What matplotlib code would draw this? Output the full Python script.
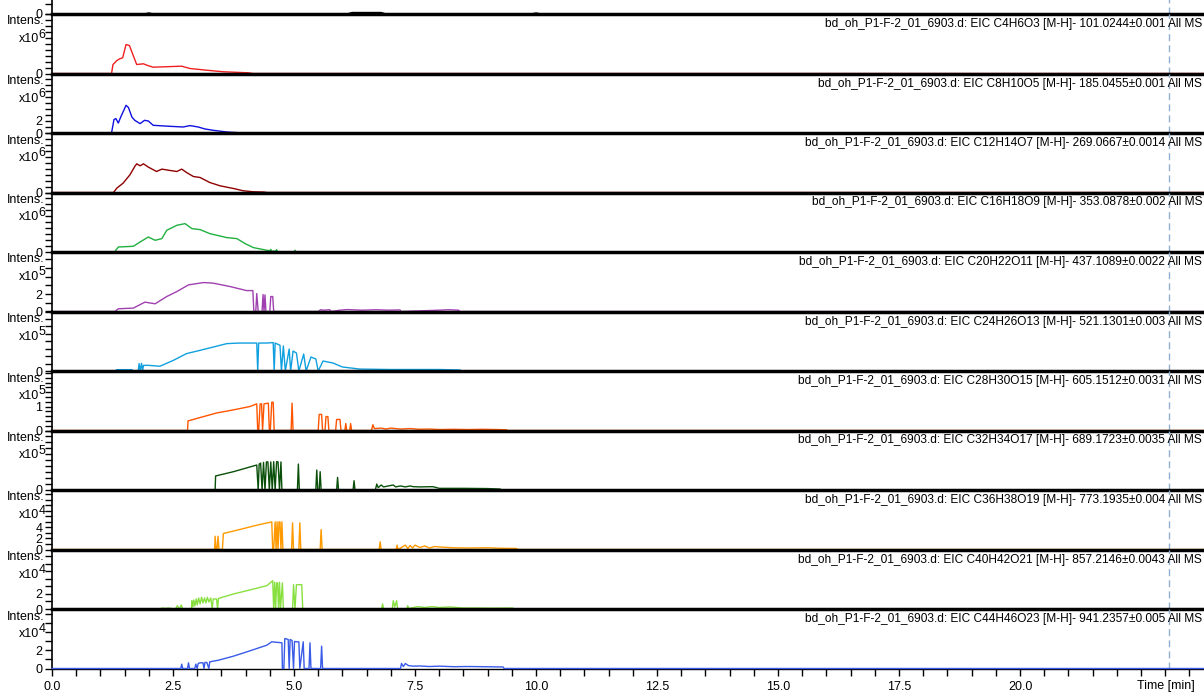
import matplotlib
matplotlib.use("Agg")
import matplotlib.pyplot as plt
from matplotlib.ticker import FixedLocator, MultipleLocator, NullFormatter, FormatStrFormatter

plt.rcParams['font.family'] = ['Liberation Sans', 'DejaVu Sans']

# ---- data (intensity in units of 10^exponent, time in min) ----
sample = "bd_oh_P1-F-2_01_6903.d"
formulas = ["C4H6O3", "C8H10O5", "C12H14O7", "C16H18O9", "C20H22O11", "C24H26O13",
            "C28H30O15", "C32H34O17", "C36H38O19", "C40H42O21", "C44H46O23"]
masses = ["101.0244", "185.0455", "269.0667", "353.0878", "437.1089", "521.1301",
          "605.1512", "689.1723", "773.1935", "857.2146", "941.2357"]
tolerances = ["0.001", "0.001", "0.0014", "0.002", "0.0022", "0.003",
              "0.0031", "0.0035", "0.004", "0.0043", "0.005"]
exponents = [None, 6, 6, 6, 6, 5, 5, 5, 5, 4, 4, 4]
y_max = [60, 10, 9.9, 10, 10, 6.8, 4, 2.48, 2.5, 10.8, 7.9, 6.6]
y_labels = [[0], [0], [0, 2], [0], [0], [0, 2], [0], [0, 1], [0], [0, 2, 4], [0, 2], [0, 2]]
y_minor = [10, 1, 1, 1, 1, 1, 0.5, 0.2, 0.25, 1, 1, 1]
x_ticks = [0.0, 2.5, 5.0, 7.5, 10.0, 12.5, 15.0, 17.5, 20.0]
t_end = 23.8
marker_time = 23.08

t0 = [0, 1.9, 2.0, 2.1, 6.1, 6.2, 6.5, 6.8, 6.9, 9.9, 10.0, 10.1, 23.8]
v0 = [0, 0, 1.0, 0, 0, 1.5, 1.5, 1.5, 0, 0, 1.0, 0, 0]

t1 = [0, 1.23, 1.26, 1.34, 1.40, 1.46, 1.53, 1.60, 1.67, 1.75, 1.89, 1.96, 2.09, 2.68, 2.85,
      3.26, 3.54, 4.05, 4.16, 23.8]
v1 = [0, 0, 1.51, 2.18, 2.47, 2.64, 4.87, 4.70, 3.19, 1.51, 1.63, 1.39, 1.06, 1.23, 0.84,
      0.50, 0.29, 0.12, 0, 0]

t2 = [0, 1.23, 1.28, 1.32, 1.37, 1.42, 1.53, 1.58, 1.65, 1.71, 1.82, 1.91, 1.99, 2.09, 2.44,
      2.71, 2.85, 3.02, 3.16, 3.33, 3.61, 3.95, 23.8]
v2 = [0, 0, 2.23, 2.40, 1.66, 2.66, 4.61, 4.23, 2.66, 2.11, 1.56, 2.11, 2.00, 1.28, 1.11,
      1.00, 1.23, 1.00, 0.67, 0.45, 0.17, 0, 0]

t3 = [0, 1.27, 1.34, 1.47, 1.61, 1.71, 1.75, 1.82, 1.89, 1.99, 2.16, 2.27, 2.44, 2.58, 2.68,
      2.78, 2.92, 3.06, 3.26, 3.47, 3.75, 3.95, 4.16, 4.37, 4.45, 23.8]
v3 = [0, 0, 0.74, 1.58, 2.97, 4.37, 4.82, 4.49, 4.82, 4.27, 3.53, 3.93, 3.70, 3.53, 3.93,
      3.36, 2.69, 2.52, 1.68, 1.13, 0.67, 0.29, 0.12, 0.08, 0, 0]

t4 = [0, 1.29, 1.37, 1.68, 1.82, 1.99, 2.13, 2.27, 2.37, 2.58, 2.75, 2.89, 3.06, 3.26, 3.61,
      3.82, 3.99, 4.16, 4.37, 4.50, 4.52, 4.54, 4.57, 4.62, 4.64, 4.66, 4.71, 5.00, 5.02, 5.04,
      23.8]
v4 = [0, 0, 0.84, 0.96, 1.68, 2.52, 1.97, 2.25, 3.65, 4.49, 4.77, 3.93, 3.76, 3.09, 2.42,
      2.25, 1.41, 0.74, 0.40, 0.20, 0.45, 0.10, 0.17, 0.10, 0.40, 0.05, 0, 0, 0.30, 0,
      0]

t5 = [0, 1.30, 1.37, 1.68, 1.92, 2.13, 2.37, 2.58, 2.82, 3.13, 3.33, 3.68, 4.02, 4.15, 4.17,
      4.21, 4.23, 4.26, 4.34, 4.36, 4.38, 4.40, 4.42, 4.50, 4.52, 4.56, 4.58, 5.50, 5.55, 5.62,
      5.74, 5.76, 5.95, 6.10, 6.40, 6.70, 6.95, 7.19, 7.21, 8.00, 8.20, 8.40, 8.42, 23.8]
v5 = [0, 0, 0.31, 0.39, 1.07, 0.88, 1.71, 2.28, 3.04, 3.31, 3.24, 2.85, 2.39, 2.39, 0,
      0, 2.05, 0, 0, 1.94, 0, 1.90, 0, 0, 1.71, 1.71, 0, 0, 0.20, 0.15,
      0.20, 0, 0.15, 0.22, 0.15, 0.20, 0.15, 0.18, 0, 0.15, 0.20, 0.15, 0, 0]

t6 = [0, 1.30, 1.34, 1.65, 1.68, 1.78, 1.80, 1.82, 1.85, 1.87, 1.89, 1.99, 2.23, 2.51, 2.78,
      3.06, 3.33, 3.61, 3.88, 4.23, 4.25, 4.27, 4.30, 4.44, 4.57, 4.59, 4.61, 4.71, 4.74, 4.78,
      4.82, 4.90, 4.93, 4.98, 5.05, 5.10, 5.20, 5.25, 5.35, 5.45, 5.50, 5.60, 5.80, 6.00, 6.36,
      7.00, 8.00, 8.43, 8.45, 23.8]
v6 = [0, 0, 0.09, 0.09, 0, 0, 0.50, 0, 0.52, 0, 0.38, 0.38, 0.32, 0.72, 1.17,
      1.39, 1.61, 1.84, 1.88, 1.88, 0, 1.88, 1.88, 1.88, 1.91, 0, 1.88, 1.73, 0, 1.68,
      0, 1.48, 0, 1.34, 1.21, 0, 1.14, 0, 0.94, 0.81, 0, 0.67, 0.54, 0.27, 0.13,
      0.10, 0.10, 0.07, 0, 0]

t7 = [0, 2.80, 2.81, 3.40, 3.75, 4.09, 4.23, 4.25, 4.27, 4.30, 4.33, 4.35, 4.38, 4.47, 4.49,
      4.51, 4.54, 4.57, 4.59, 4.94, 4.96, 4.98, 5.50, 5.52, 5.57, 5.59, 5.64, 5.66, 5.70, 5.72,
      5.86, 5.88, 5.95, 5.97, 6.05, 6.07, 6.09, 6.15, 6.17, 6.19, 6.60, 6.63, 6.66, 6.80, 6.90,
      7.00, 7.20, 7.40, 7.60, 7.80, 8.00, 8.30, 8.60, 8.90, 9.20, 9.39, 9.41, 23.8]
v7 = [0, 0, 0.40, 0.73, 0.86, 1.00, 1.11, 0, 0, 1.11, 1.11, 0, 1.11, 1.14, 0,
      0, 1.18, 1.18, 0, 0, 1.14, 0, 0, 0.67, 0.67, 0, 0, 0.58, 0.58, 0,
      0, 0.46, 0.46, 0, 0, 0.29, 0, 0, 0.29, 0, 0, 0.24, 0.08, 0.10, 0.06,
      0.10, 0.06, 0.08, 0.05, 0.06, 0.04, 0.05, 0.04, 0.05, 0.04, 0.03, 0, 0]

t8 = [0, 3.37, 3.38, 3.75, 4.23, 4.26, 4.28, 4.31, 4.34, 4.37, 4.40, 4.43, 4.46, 4.49, 4.52,
      4.55, 4.58, 4.61, 4.64, 4.67, 4.70, 4.73, 4.75, 5.07, 5.09, 5.11, 5.45, 5.47, 5.49, 5.52,
      5.54, 5.56, 5.88, 5.90, 5.92, 6.22, 6.24, 6.26, 6.68, 6.71, 6.74, 6.80, 6.85, 7.05, 7.10,
      7.20, 7.30, 7.40, 7.46, 7.60, 7.87, 8.00, 8.50, 9.00, 9.26, 9.28, 23.8]
v8 = [0, 0, 0.59, 0.77, 1.05, 0, 1.09, 1.13, 0, 1.16, 0, 1.18, 1.18, 0, 1.18,
      0, 1.19, 0, 1.19, 1.18, 0, 1.18, 0, 0, 1.09, 0, 0, 0.84, 0, 0,
      0.77, 0, 0, 0.53, 0, 0, 0.39, 0, 0, 0.25, 0.10, 0.21, 0.13, 0.21, 0.13,
      0.17, 0.13, 0.17, 0.14, 0.13, 0.14, 0.07, 0.07, 0.06, 0.04, 0, 0]

t9 = [0, 3.36, 3.37, 3.39, 3.41, 3.43, 3.45, 3.52, 3.54, 3.88, 4.23, 4.54, 4.56, 4.58, 4.61,
      4.63, 4.65, 4.67, 4.69, 4.71, 4.73, 4.75, 4.77, 4.95, 4.97, 4.99, 5.10, 5.12, 5.14, 5.54,
      5.56, 5.58, 6.76, 6.78, 6.80, 7.11, 7.13, 7.15, 7.30, 7.35, 7.40, 7.45, 7.50, 7.60, 7.70,
      7.80, 7.90, 8.02, 8.30, 8.60, 9.00, 9.30, 9.60, 9.62, 23.8]
v9 = [0, 0, 2.41, 0, 0, 2.41, 0, 0, 2.90, 3.63, 4.41, 5.01, 0, 0, 5.01,
      0, 5.01, 0, 5.01, 5.01, 0, 5.01, 0, 0, 4.85, 0, 0, 4.85, 0, 0,
      3.63, 0, 0, 1.40, 0, 0, 0.80, 0, 0.80, 0.18, 0.73, 0.27, 0.80, 0.36, 0.64,
      0.27, 0.54, 0.45, 0.31, 0.27, 0.31, 0.22, 0.18, 0, 0]

t10 = [0, 2.25, 2.27, 2.35, 2.40, 2.47, 2.55, 2.59, 2.63, 2.67, 2.70, 2.88, 2.89, 2.91, 2.93,
       2.95, 2.98, 3.00, 3.03, 3.06, 3.09, 3.12, 3.15, 3.18, 3.21, 3.24, 3.28, 3.31, 3.33, 3.40,
       3.42, 3.44, 3.75, 4.09, 4.44, 4.56, 4.58, 4.60, 4.62, 4.64, 4.66, 4.68, 4.70, 4.72, 4.76,
       4.78, 4.97, 4.99, 5.02, 5.05, 5.12, 5.16, 5.18, 6.81, 6.83, 6.85, 7.03, 7.05, 7.08, 7.12,
       7.14, 7.33, 7.35, 7.37, 7.56, 7.70, 7.85, 8.00, 8.22, 8.50, 8.80, 9.10, 9.52, 9.54, 23.8]
v10 = [0, 0, 0.13, 0.07, 0.13, 0.07, 0, 0.44, 0, 0.53, 0, 0, 1.10, 0.27, 1.20,
       0.40, 1.33, 0.53, 1.46, 0.67, 1.56, 0.80, 1.46, 0.80, 1.56, 0.93, 1.46, 0, 1.33, 1.33,
       0, 1.40, 2.00, 2.53, 3.10, 3.76, 0, 3.55, 0, 3.46, 3.46, 0, 3.55, 0, 3.46,
       0, 0, 3.23, 0, 3.23, 3.23, 3.23, 0, 0, 0.67, 0, 0, 1.10, 0.27, 1.10,
       0, 0, 0.44, 0.07, 0.31, 0.20, 0.31, 0.20, 0.27, 0.13, 0.13, 0.11, 0.13, 0, 0]

t11 = [0, 2.66, 2.68, 2.70, 2.80, 2.82, 2.84, 2.95, 2.97, 3.00, 3.02, 3.06, 3.12, 3.14, 3.16,
       3.20, 3.24, 3.26, 3.44, 3.75, 4.09, 4.44, 4.54, 4.75, 4.76, 4.79, 4.81, 4.88, 4.90, 4.92,
       4.96, 4.99, 5.01, 5.06, 5.10, 5.12, 5.19, 5.21, 5.31, 5.33, 5.35, 5.55, 5.57, 5.59, 7.20,
       7.22, 7.26, 7.30, 7.36, 7.46, 7.60, 7.80, 8.00, 8.30, 8.60, 8.90, 9.32, 9.34, 23.8]
v11 = [0, 0, 0.48, 0, 0, 0.63, 0, 0, 0.48, 0, 0.56, 0.63, 0.63, 0, 0.67,
       0.67, 0, 0.74, 0.92, 1.37, 1.96, 2.59, 2.96, 2.85, 0, 0, 3.33, 3.22, 0, 3.22,
       3.11, 0, 3.00, 2.96, 2.96, 0, 2.96, 0, 0, 2.85, 0, 0, 2.48, 0, 0,
       0.56, 0.22, 0.56, 0.33, 0.26, 0.28, 0.22, 0.26, 0.20, 0.22, 0.20, 0.17, 0, 0]

colors = ["#000000", "#f02020", "#1010e0", "#900000", "#20b040", "#a040b0", "#10a0e0",
          "#ff5500", "#0a500a", "#ff9a00", "#88e040", "#3a5ae8"]

times = [t0, t1, t2, t3, t4, t5, t6, t7, t8, t9, t10, t11]
values = [v0, v1, v2, v3, v4, v5, v6, v7, v8, v9, v10, v11]

# ---- layout in pixels ----
W, H = 1204, 694
left_px = 52
first_base = 14
panel_h = 59.5


def fx(px):
    return px / W


def fy(px):
    return (H - px) / H


fig = plt.figure(figsize=(W / 100, H / 100), dpi=100)

n = len(times)
for i in range(n):
    base = first_base + panel_h * i
    top = base - panel_h
    last = i == n - 1
    ax = fig.add_axes([fx(left_px), fy(base), (W - left_px) / W, panel_h / H])
    ax.set_facecolor("none")
    # trace sits under the thick separator line, except in the last panel
    ax.plot(times[i], values[i], color=colors[i], lw=1.0,
            zorder=3 if last else 2, clip_on=False)
    ax.axvline(marker_time, color="#8fb0d0", ls=(0, (5, 3)), lw=1.0)
    ax.set_xlim(0, t_end)
    ax.set_ylim(0, y_max[i])

    for s in ("top", "right"):
        ax.spines[s].set_visible(False)
    ax.spines["left"].set_linewidth(1.2)
    ax.spines["bottom"].set_linewidth(1.0 if last else 2.5)

    ax.yaxis.set_major_locator(FixedLocator(y_labels[i]))
    ax.yaxis.set_minor_locator(MultipleLocator(y_minor[i]))
    ax.yaxis.set_major_formatter(FormatStrFormatter("%d"))
    ax.yaxis.set_minor_formatter(NullFormatter())
    ax.tick_params(axis="y", which="both", direction="out", length=5, width=1,
                   pad=2, labelsize=9)

    if not last:
        ax.tick_params(axis="x", which="both", bottom=False, labelbottom=False)
    else:
        ax.xaxis.set_major_locator(FixedLocator(x_ticks))
        ax.xaxis.set_minor_locator(MultipleLocator(0.5))
        ax.xaxis.set_major_formatter(FormatStrFormatter("%.1f"))
        ax.tick_params(axis="x", which="both", direction="out", length=5, width=1,
                       pad=4, labelsize=9)
        fig.text(fx(1195), fy(686), "Time [min]", ha="right", va="center", fontsize=9)

    if i > 0:
        title = f"{sample}: EIC {formulas[i - 1]} [M-H]- {masses[i - 1]}\u00b1{tolerances[i - 1]} All MS"
        fig.text(fx(1202), fy(top + 10), title, ha="right", va="center", fontsize=8.6)
        fig.text(fx(44), fy(top + 7.5), "Intens.", ha="right", va="center", fontsize=9)
        fig.text(fx(39), fy(top + 25), "x10", ha="right", va="center", fontsize=9)
        fig.text(fx(38.5), fy(top + 20.5), str(exponents[i]), ha="left", va="center", fontsize=9)

fig.savefig("out.png", dpi=100)
